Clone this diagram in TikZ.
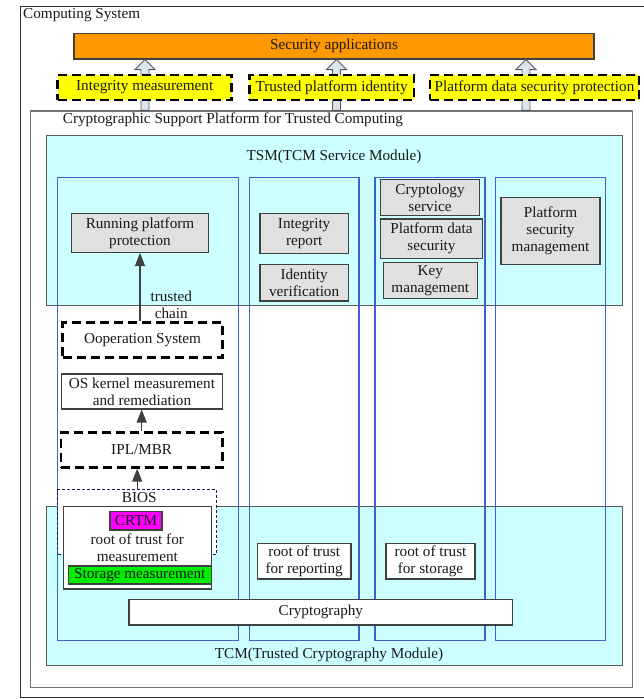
\documentclass[tikz,border=0pt]{standalone}
\usepackage{fontspec}
\setmainfont{Liberation Serif}
\usetikzlibrary{arrows.meta,calc}

\definecolor{modcyan}{HTML}{CCFFFF}
\definecolor{colblue}{HTML}{4060D0}
\definecolor{boxgray}{HTML}{E0E0E0}
\definecolor{apporange}{HTML}{FF9900}
\definecolor{featyellow}{HTML}{FFFF00}
\definecolor{crtmmagenta}{HTML}{FF00FF}
\definecolor{storegreen}{HTML}{00EE00}
\definecolor{arrowfill}{HTML}{DCE4EE}
\definecolor{biosnavy}{HTML}{1A1A50}

\begin{document}
\begin{tikzpicture}[x=1pt,y=-1pt,
  every node/.style={font=\fontsize{15.2}{17}\selectfont, inner sep=0pt, align=center, text=black!90},
  rect/.style={draw=black!75, line width=1.1pt},
  graybox/.style={rect, fill=boxgray},
  whitebox/.style={rect, fill=white},
  modulebox/.style={draw=black!65, line width=1.1pt, fill=modcyan},
  column/.style={draw=colblue, line width=1.2pt},
  thickdash/.style={draw=black, line width=2.6pt, dash pattern=on 9pt off 5pt},
  featurebox/.style={thickdash, fill=featyellow, minimum height=25pt},
  biosbox/.style={draw=biosnavy, line width=1pt, dash pattern=on 3pt off 2pt, fill=white},
  blockarrow/.style={draw=black!65, line width=0.9pt, fill=arrowfill, line join=miter},
  chainarrow/.style={draw=black!75, line width=1.2pt, -{Triangle[length=13pt,width=10pt]}}
]
\useasboundingbox (0,0) rectangle (644,699);

% outer system frame
\node[draw=black!80, line width=1pt, minimum width=625pt, minimum height=690.8pt] (cs) at (332.5,352.1) {};
\node[anchor=west] (cslabel) at (23,15) {Computing System};

% support platform
\node[draw=black!55, line width=1.4pt, fill=white, minimum width=602pt, minimum height=576.3pt] (csp) at (331.7,399.15) {};
\node[anchor=west] (csplabel) at (62.7,120) {Cryptographic Support Platform for Trusted Computing};

% service module and cryptography module
\node[modulebox, minimum width=575.6pt, minimum height=170pt] (tsm) at (334.5,220.7) {};
\node (tsmlabel) at (334,157) {TSM(TCM Service Module)};
\node[modulebox, minimum width=575.6pt, minimum height=159pt] (tcm) at (334.5,586.2) {};
\node (tcmlabel) at (329,655) {TCM(Trusted Cryptography Module)};

% functional columns
\node[column, minimum width=180.8pt, minimum height=463.4pt] (col1) at (148.1,409) {};
\node[column, minimum width=109.8pt, minimum height=463.4pt] (col2) at (304.1,409) {};
\node[column, minimum width=110pt, minimum height=463.4pt] (col3) at (430,409) {};
\node[column, minimum width=110pt, minimum height=463.4pt] (col4) at (550.7,409) {};

% applications on top
\node[draw=black!75, line width=1.1pt, fill=apporange, minimum width=520pt, minimum height=25.7pt] (sec) at (334,46.15) {Security applications};

% hollow arrows from the platform up to the applications
\coordinate (b1) at (145,0);
\coordinate (b2) at (336.5,0);
\coordinate (b3) at (526,0);
\foreach \b in {b1,b2,b3} {
  \draw[blockarrow] ($(\b |- csp.north)+(-4,0)$) -- ($(\b |- sec.south)+(-4,10)$)
    -- ($(\b |- sec.south)+(-10,10)$) -- (\b |- sec.south) -- ($(\b |- sec.south)+(10,10)$)
    -- ($(\b |- sec.south)+(4,10)$) -- ($(\b |- csp.north)+(4,0)$) -- cycle;
}

% security features
\node[featurebox, minimum width=174pt] (im) at (144.7,87.5) {Integrity measurement};
\node[featurebox, minimum width=164.7pt] (tpi) at (331.65,87.5) {Trusted platform identity};
\node[featurebox, minimum width=209pt] (pdsp) at (534.5,87.5) {Platform data security protection};

% service module functions
\node[graybox, minimum width=137.4pt, minimum height=39.2pt] (rpp) at (140,232.9) {Running platform\\protection};
\node[graybox, minimum width=88.3pt, minimum height=40pt] (ir) at (304.15,233.3) {Integrity\\report};
\node[graybox, minimum width=88.3pt, minimum height=36.7pt] (iv) at (304.15,282.65) {Identity\\verification};
\node[graybox, minimum width=98.6pt, minimum height=36.4pt] (cserv) at (430,197.5) {Cryptology\\service};
\node[graybox, minimum width=101.6pt, minimum height=39.3pt] (pds) at (431.5,238.65) {Platform data\\security};
\node[graybox, minimum width=94pt, minimum height=36pt] (km) at (430.3,280.3) {Key\\management};
\node[graybox, minimum width=99pt, minimum height=66.6pt] (psm) at (550.5,231) {Platform\\security\\management};

% boot chain
\node[thickdash, fill=white, minimum width=159.6pt, minimum height=35pt] (os) at (142.5,340.2) {Ooperation System};
\node[whitebox, minimum width=160.6pt, minimum height=35pt] (osk) at (142,391.5) {OS kernel measurement\\and remediation};
\node[thickdash, fill=white, minimum width=161.3pt, minimum height=35pt] (ipl) at (141.65,449.8) {IPL/MBR};
\node[biosbox, minimum width=159pt, minimum height=64.5pt] (bios) at (137.2,521.75) {};
\node (bioslabel) at (139.3,498) {BIOS};
\node[whitebox, minimum width=148pt, minimum height=82.3pt] (rtm) at (137.3,547.85) {root of trust for\\measurement};
\node[rect, fill=crtmmagenta, minimum width=52pt, minimum height=18.3pt] (crtm) at (136,520.85) {CRTM};
\node[rect, fill=storegreen, minimum width=143pt, minimum height=18pt] (sm) at (139.8,575) {Storage measurement};

% roots of trust and cryptography
\node[whitebox, minimum width=93.7pt, minimum height=35.7pt] (rtr) at (304.15,561.15) {root of trust\\for reporting};
\node[whitebox, minimum width=89pt, minimum height=35.7pt] (rts) at (430.5,561.15) {root of trust\\for storage};
\node[whitebox, minimum width=383.7pt, minimum height=25.7pt] (cry) at (320.85,612.15) {Cryptography};

% chain of trust arrows
\draw[chainarrow] (bios.north) -- (bios.north |- ipl.south);
\draw[chainarrow] (ipl.north) -- (ipl.north |- osk.south);
\draw[chainarrow] (rpp.south |- os.north) -- (rpp.south)
  node[pos=0.245, anchor=west, xshift=10pt] (tclabel) {trusted\\chain};
\end{tikzpicture}
\end{document}
